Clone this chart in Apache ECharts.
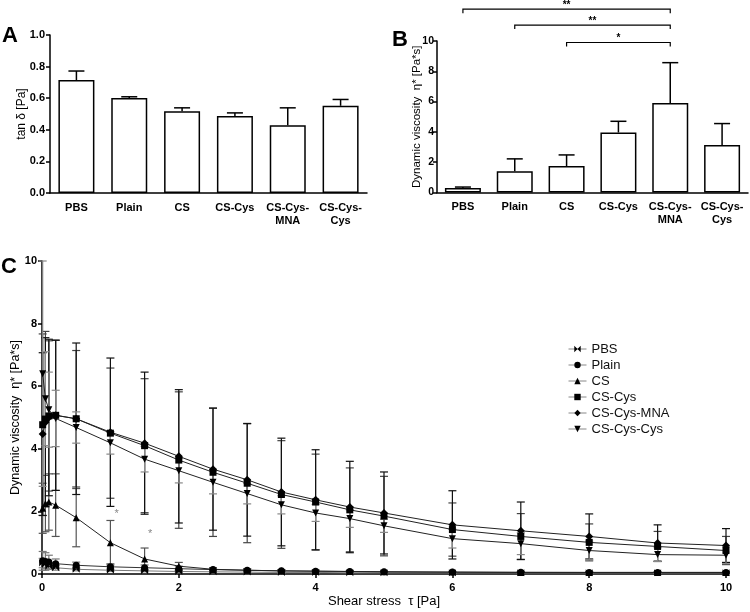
<!DOCTYPE html>
<html><head><meta charset="utf-8">
<script src="https://cdn.jsdelivr.net/npm/echarts@6/dist/echarts.min.js"></script>
<style>html,body{margin:0;padding:0;background:#fff}#c{width:750px;height:612px}</style>
</head><body><div id="c"></div>
<script>
// ---------- DATA ----------
const categories = ['PBS','Plain','CS','CS-Cys','CS-Cys-MNA','CS-Cys-Cys'];
const tanDelta    = [0.715, 0.602, 0.518, 0.488, 0.429, 0.552];
const tanDeltaErr = [0.057, 0.007, 0.021, 0.019, 0.110, 0.040];
const viscB       = [0.30, 1.40, 1.75, 3.96, 5.91, 3.14];
const viscBErr    = [0.06, 0.82, 0.73, 0.74, 2.66, 1.41];
const sigPairs    = [['PBS','CS-Cys-MNA','**',12.1],['Plain','CS-Cys-MNA','**',11.05],['CS','CS-Cys-MNA','*',9.9]];

const shear = [0.01,0.05,0.1,0.2,0.5,1,1.5,2,2.5,3,3.5,4,4.5,5,6,7,8,9,10];
const seriesNames = ['PBS','Plain','CS','CS-Cys','CS-Cys-MNA','CS-Cys-Cys'];
const etaPBS   = [0.35,0.30,0.25,0.20,0.15,0.12,0.10,0.08,0.07,0.06,0.05,0.05,0.04,0.04,0.04,0.04,0.04,0.04,0.04];
const sdPBS    = [0.15,0.12,0.10,0.08,0.05,0.04,0.03,0.03,0.02,0.02,0.02,0.02,0.01,0.01,0.01,0.01,0.01,0.01,0.01];
const etaPlain = [0.42,0.40,0.38,0.33,0.28,0.23,0.20,0.17,0.14,0.12,0.10,0.09,0.08,0.07,0.06,0.055,0.05,0.05,0.05];
const sdPlain  = [0.30,0.28,0.22,0.15,0.10,0.10,0.09,0.08,0.06,0.05,0.04,0.03,0.03,0.02,0.02,0.02,0.02,0.02,0.02];
const etaCS    = [2.10,2.25,2.30,2.20,1.80,1.00,0.48,0.25,0.15,0.12,0.10,0.09,0.08,0.07,0.06,0.05,0.05,0.05,0.05];
const sdCS     = [0.80,0.90,0.90,1.00,0.93,0.71,0.35,0.12,0.05,0.04,0.03,0.03,0.02,0.02,0.02,0.02,0.02,0.02,0.02];
const etaCSCys = [4.77,4.95,5.05,5.07,4.96,4.50,4.10,3.64,3.25,2.90,2.54,2.30,2.05,1.85,1.42,1.20,1.01,0.88,0.75];
const sdCSCys  = [2.90,2.80,2.40,2.40,2.18,2.08,2.14,2.18,2.05,1.90,1.72,1.53,1.34,1.27,0.85,0.73,0.59,0.48,0.45];
const etaMNA   = [4.47,4.85,5.00,5.07,4.96,4.53,4.18,3.76,3.35,3.01,2.62,2.37,2.14,1.95,1.57,1.38,1.20,0.99,0.91];
const sdMNA    = [2.60,2.70,2.50,2.40,2.42,2.37,2.27,2.13,1.95,1.80,1.72,1.60,1.46,1.31,1.09,0.92,0.72,0.58,0.54];
const etaCCC   = [6.40,5.60,5.25,4.97,4.68,4.19,3.67,3.30,2.93,2.57,2.21,1.95,1.77,1.54,1.13,0.97,0.75,0.62,0.60];
const sdCCC    = [3.60,1.50,1.20,0.90,0.50,0.36,0.41,0.39,0.37,0.33,0.29,0.27,0.28,0.21,0.30,0.35,0.30,0.22,0.27];
const starPoints = [[1.09,1.93],[1.58,1.29]];

// ---------- CHART ----------
const chart = echarts.init(document.getElementById('c'), null, {renderer:'canvas'});
const FONT = 'Liberation Sans, Arial, sans-serif';
const catFmt = v => v === 'CS-Cys-MNA' ? 'CS-Cys-\nMNA' : (v === 'CS-Cys-Cys' ? 'CS-Cys-\nCys' : v);

function axisCommon(){ return {
  axisLine:{show:true,lineStyle:{color:'#000',width:1.5}},
  axisTick:{show:true,inside:false,length:4,lineStyle:{color:'#000',width:1.5}},
  axisLabel:{color:'#000',fontFamily:FONT,fontWeight:'bold',fontSize:11},
  splitLine:{show:false},
  nameMoveOverlap:false,
  nameTextStyle:{color:'#000',fontFamily:FONT,fontSize:13}
};}

function barErr(params, api){
  const x = api.value(0), v = api.value(1), e = api.value(2);
  const p0 = api.coord([x, v]), p1 = api.coord([x, v + e]);
  const hw = 8;
  return {type:'group', children:[
    {type:'line', shape:{x1:p0[0],y1:p0[1],x2:p1[0],y2:p1[1]}, style:{stroke:'#000',lineWidth:1.5}},
    {type:'line', shape:{x1:p1[0]-hw,y1:p1[1],x2:p1[0]+hw,y2:p1[1]}, style:{stroke:'#000',lineWidth:1.5}}
  ]};
}
function makeErr(color){
  return function(params, api){
    const x = api.value(0), v = api.value(1), e = api.value(2);
    const top = Math.min(10, v + e), bot = Math.max(0, v - e);
    const pt = api.coord([x, top]), pb = api.coord([x, bot]);
    const hw = 4;
    const ch = [{type:'line', shape:{x1:pt[0],y1:pt[1],x2:pb[0],y2:pb[1]}, style:{stroke:color,lineWidth:1.2}},
                {type:'line', shape:{x1:pt[0]-hw,y1:pt[1],x2:pt[0]+hw,y2:pt[1]}, style:{stroke:color,lineWidth:1.2}}];
    if (v - e > 0) ch.push({type:'line', shape:{x1:pb[0]-hw,y1:pb[1],x2:pb[0]+hw,y2:pb[1]}, style:{stroke:color,lineWidth:1.2}});
    return {type:'group', children:ch};
  };
}
function sigRender(params, api){
  const a = api.value(0), b = api.value(1), lvl = api.value(2);
  const pa = api.coord([a, lvl]), pb = api.coord([b, lvl]);
  const lab = sigPairs[params.dataIndex][2];
  return {type:'group', children:[
    {type:'polyline', shape:{points:[[pa[0],pa[1]+4],[pa[0],pa[1]],[pb[0],pb[1]],[pb[0],pb[1]+4]]}, style:{stroke:'#000',lineWidth:1.2,fill:null}},
    {type:'text', style:{text:lab, x:(pa[0]+pb[0])/2, y:pa[1]+1, align:'center', verticalAlign:'bottom', font:'bold 10px '+FONT, fill:'#000'}}
  ]};
}

const lineDefs = [
  {name:'PBS', y:etaPBS, sd:sdPBS, sym:'path://M0,0L5,5L0,10ZM10,0L5,5L10,10Z', size:7, lc:'#777', ec:'#888'},
  {name:'Plain', y:etaPlain, sd:sdPlain, sym:'circle', size:7, lc:'#333', ec:'#777'},
  {name:'CS', y:etaCS, sd:sdCS, sym:'triangle', size:7, lc:'#222', ec:'#555'},
  {name:'CS-Cys', y:etaCSCys, sd:sdCSCys, sym:'rect', size:7, lc:'#222', ec:'#444'},
  {name:'CS-Cys-MNA', y:etaMNA, sd:sdMNA, sym:'diamond', size:8, lc:'#222', ec:'#111'},
  {name:'CS-Cys-Cys', y:etaCCC, sd:sdCCC, sym:'path://M0,0L10,0L5,9Z', size:7, lc:'#222', ec:'#888'}
];

const series = [];
series.push({type:'bar', xAxisIndex:0, yAxisIndex:0, data:tanDelta, barWidth:36,
  itemStyle:{color:'#fff', borderColor:'#000', borderWidth:1.5}, silent:true, z:3});
series.push({type:'custom', xAxisIndex:0, yAxisIndex:0, renderItem:barErr, z:2,
  data:tanDelta.map((v,i)=>[i,v,tanDeltaErr[i]])});
series.push({type:'bar', xAxisIndex:1, yAxisIndex:1, data:viscB, barWidth:36,
  itemStyle:{color:'#fff', borderColor:'#000', borderWidth:1.5}, silent:true, z:3});
series.push({type:'custom', xAxisIndex:1, yAxisIndex:1, renderItem:barErr, z:2,
  data:viscB.map((v,i)=>[i,v,viscBErr[i]])});
series.push({type:'custom', xAxisIndex:1, yAxisIndex:1, renderItem:sigRender, clip:false, z:4,
  data:sigPairs.map(p=>[categories.indexOf(p[0]), categories.indexOf(p[1]), p[3]])});
lineDefs.forEach(d=>{
  series.push({type:'custom', xAxisIndex:2, yAxisIndex:2, renderItem:makeErr(d.ec), z:2, silent:true,
    data:shear.map((x,i)=>[x,d.y[i],d.sd[i]])});
});
lineDefs.forEach(d=>{
  series.push({type:'line', name:d.name, xAxisIndex:2, yAxisIndex:2, z:5,
    data:shear.map((x,i)=>[x,d.y[i]]), symbol:d.sym, symbolSize:d.size, showAllSymbol:true,
    lineStyle:{color:d.lc,width:1}, itemStyle:{color:'#000',borderWidth:0}, animation:false});
});
series.push({type:'custom', xAxisIndex:2, yAxisIndex:2, z:6,
  renderItem:(p,api)=>{const c=api.coord([api.value(0),api.value(1)]);
    return {type:'text', style:{text:'*', x:c[0], y:c[1], align:'center', verticalAlign:'middle', font:'11px '+FONT, fill:'#888'}};},
  data:starPoints});

const option = {
  animation:false,
  backgroundColor:'#fff',
  textStyle:{fontFamily:FONT},
  graphic:[
    {type:'text', left:2, top:25, style:{text:'A', font:'bold 22px '+FONT, fill:'#000'}},
    {type:'text', left:392, top:29, style:{text:'B', font:'bold 22px '+FONT, fill:'#000'}},
    {type:'text', left:1, top:256, style:{text:'C', font:'bold 22px '+FONT, fill:'#000'}}
  ],
  legend:{orient:'vertical', left:563, top:337, itemWidth:18, itemHeight:8, itemGap:2,
    data:seriesNames, selectedMode:false,
    lineStyle:{color:'#888', width:1},
    textStyle:{fontFamily:FONT, fontSize:13, color:'#111', lineHeight:14}},
  grid:[
    {left:50, top:35, width:317, height:158, outerBoundsMode:'none'},
    {left:437, top:41, width:311, height:151.5, outerBoundsMode:'none'},
    {left:42, top:261, width:684, height:313, outerBoundsMode:'none'}
  ],
  xAxis:[
    Object.assign(axisCommon(), {type:'category', gridIndex:0, data:categories, axisTick:{show:false},
      axisLabel:{color:'#000',fontFamily:FONT,fontWeight:'bold',fontSize:11,interval:0,formatter:catFmt,lineHeight:13,margin:8}}),
    Object.assign(axisCommon(), {type:'category', gridIndex:1, data:categories, axisTick:{show:false},
      axisLabel:{color:'#000',fontFamily:FONT,fontWeight:'bold',fontSize:11,interval:0,formatter:catFmt,lineHeight:13,margin:8}}),
    Object.assign(axisCommon(), {type:'value', gridIndex:2, min:0, max:10, interval:2,
      name:'Shear stress  τ [Pa]', nameLocation:'middle', nameGap:21})
  ],
  yAxis:[
    Object.assign(axisCommon(), {type:'value', gridIndex:0, min:0, max:1, interval:0.2,
      axisLabel:{color:'#000',fontFamily:FONT,fontWeight:'bold',fontSize:11,formatter:v=>v.toFixed(1),margin:5},
      name:'tan δ [Pa]', nameLocation:'middle', nameGap:22,
      nameTextStyle:{color:'#000',fontFamily:FONT,fontSize:12}}),
    Object.assign(axisCommon(), {type:'value', gridIndex:1, min:0, max:10, interval:2,
      axisLabel:{color:'#000',fontFamily:FONT,fontWeight:'bold',fontSize:10.5,margin:3},
      name:'Dynamic viscosity  η* [Pa*s]', nameLocation:'middle', nameGap:14,
      nameTextStyle:{color:'#000',fontFamily:FONT,fontSize:11.5}}),
    Object.assign(axisCommon(), {type:'value', gridIndex:2, min:0, max:10, interval:2,
      axisLabel:{color:'#000',fontFamily:FONT,fontWeight:'bold',fontSize:11,margin:5},
      name:'Dynamic viscosity  η* [Pa*s]', nameLocation:'middle', nameGap:20,
      nameTextStyle:{color:'#000',fontFamily:FONT,fontSize:12.5}})
  ],
  series:series
};
chart.setOption(option);
</script></body></html>
